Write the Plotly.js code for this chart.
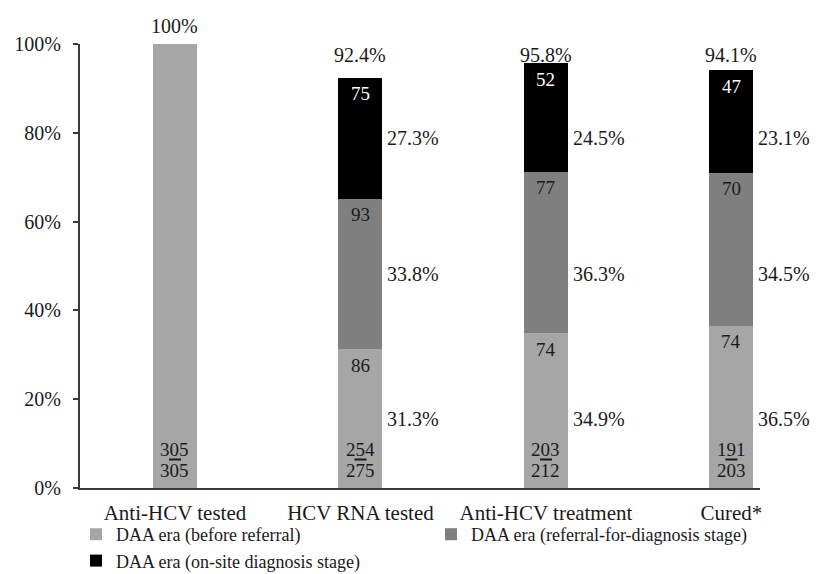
<!DOCTYPE html>
<html>
<head>
<meta charset="utf-8">
<script src="https://cdn.plot.ly/plotly-3.0.1.min.js"></script>
<style>html,body{margin:0;padding:0;background:#fff;}#chart{width:816px;height:574px;}</style>
</head>
<body>
<div id="chart"></div>
<script>
// ---- data ----
var categories = ["Anti-HCV tested", "HCV RNA tested", "Anti-HCV treatment", "Cured*"];
var seriesNames = ["DAA era (before referral)", "DAA era (referral-for-diagnosis stage)", "DAA era (on-site diagnosis stage)"];
var pctBeforeReferral = [100, 31.3, 34.9, 36.5];
var pctReferralStage = [null, 33.8, 36.3, 34.5];
var pctOnSiteStage = [null, 27.3, 24.5, 23.1];
var countBeforeReferral = [null, 86, 74, 74];
var countReferralStage = [null, 93, 77, 70];
var countOnSiteStage = [null, 75, 52, 47];
var totalPct = ["100%", "92.4%", "95.8%", "94.1%"];
var fracNumerator = [305, 254, 203, 191];
var fracDenominator = [305, 275, 212, 203];

// ---- style ----
var FONT = "Liberation Serif, Times New Roman, serif";
var colors = ["#a6a6a6", "#7f7f7f", "#000000"];
var barWidth = 0.237;
var series = [pctBeforeReferral, pctReferralStage, pctOnSiteStage];
var counts = [countBeforeReferral, countReferralStage, countOnSiteStage];

var traces = series.map(function (vals, s) {
  return {
    type: "bar",
    name: seriesNames[s],
    x: categories,
    y: vals.map(function (v) { return v == null ? null : v / 100; }),
    width: barWidth,
    marker: { color: colors[s], line: { width: 0 } },
    hoverinfo: "skip"
  };
});

var annotations = [];
var shapes = [];
var tops = categories.map(function (c, i) {
  return series.reduce(function (a, arr) { return a + (arr[i] || 0); }, 0) / 100;
});
var maxOtherTop = Math.max.apply(null, tops.slice(1));

categories.forEach(function (c, i) {
  // counts at top of each segment
  var cum = 0;
  series.forEach(function (arr, s) {
    if (arr[i] == null) return;
    cum += arr[i] / 100;
    if (counts[s][i] != null) {
      annotations.push({
        x: c, y: cum, xref: "x", yref: "y", text: String(counts[s][i]),
        showarrow: false, yanchor: "middle", yshift: -16,
        font: { family: FONT, size: 19, color: s === 2 ? "#ffffff" : "#1a1a1a" }
      });
    }
  });
  // segment percentages to the right (rows aligned on the second bar's segment middles)
  if (i > 0) {
    var c2 = 0;
    series.forEach(function (arr, s) {
      var mid = c2 + series[s][1] / 200;
      c2 += series[s][1] / 100;
      annotations.push({
        x: c, y: mid, xref: "x", yref: "y", text: arr[i].toFixed(1) + "%",
        showarrow: false, xanchor: "left", yanchor: "middle", xshift: 25,
        font: { family: FONT, size: 20, color: "#1a1a1a" }
      });
    });
  }
  // totals above bars
  annotations.push({
    x: c, y: i === 0 ? tops[0] : maxOtherTop, xref: "x", yref: "y", text: totalPct[i],
    showarrow: false, yanchor: "middle", yshift: i === 0 ? 18 : 8,
    font: { family: FONT, size: 20, color: "#1a1a1a" }
  });
  // fractions at bottom
  annotations.push({
    x: c, y: 0, xref: "x", yref: "y", text: String(fracNumerator[i]),
    showarrow: false, yanchor: "middle", yshift: 39,
    font: { family: FONT, size: 19, color: "#1a1a1a" }
  });
  annotations.push({
    x: c, y: 0, xref: "x", yref: "y", text: String(fracDenominator[i]),
    showarrow: false, yanchor: "middle", yshift: 18,
    font: { family: FONT, size: 19, color: "#1a1a1a" }
  });
  shapes.push({
    type: "line", xref: "x", yref: "y", xsizemode: "pixel", xanchor: i,
    x0: -6, x1: 6, y0: 28.5 / 444, y1: 28.5 / 444,
    line: { color: "#1a1a1a", width: 2 }
  });
});

var layout = {
  width: 816, height: 574,
  margin: { l: 80, r: 56, t: 44, b: 86, pad: 0, autoexpand: false },
  paper_bgcolor: "#ffffff", plot_bgcolor: "#ffffff",
  barmode: "stack",
  bargap: 0,
  showlegend: true,
  hovermode: false,
  font: { family: FONT, size: 20, color: "#1a1a1a" },
  xaxis: {
    type: "category", range: [-0.512, 3.154],
    showline: true, linecolor: "#3a3a3a", linewidth: 2,
    ticks: "", showgrid: false, zeroline: false,
    tickfont: { family: FONT, size: 21, color: "#1a1a1a" },
    ticklabelstandoff: 5
  },
  yaxis: {
    range: [0, 1], tickvals: [0, 0.2, 0.4, 0.6, 0.8, 1.0],
    ticktext: ["0%", "20%", "40%", "60%", "80%", "100%"],
    showline: true, linecolor: "#3a3a3a", linewidth: 2,
    ticks: "outside", ticklen: 5, tickwidth: 2, tickcolor: "#3a3a3a",
    showgrid: false, zeroline: false,
    tickfont: { family: FONT, size: 20, color: "#1a1a1a" },
    ticklabelstandoff: 8
  },
  legend: {
    orientation: "h", xref: "paper", yref: "paper",
    x: -4 / 680, xanchor: "left", y: (488 - 516) / 444, yanchor: "top",
    entrywidth: 310, entrywidthmode: "pixels",
    traceorder: "normal",
    font: { family: FONT, size: 18, color: "#1a1a1a" },
    bgcolor: "rgba(0,0,0,0)"
  },
  annotations: annotations,
  shapes: shapes
};

Plotly.newPlot("chart", traces, layout, { displayModeBar: false, staticPlot: true });
</script>
</body>
</html>
